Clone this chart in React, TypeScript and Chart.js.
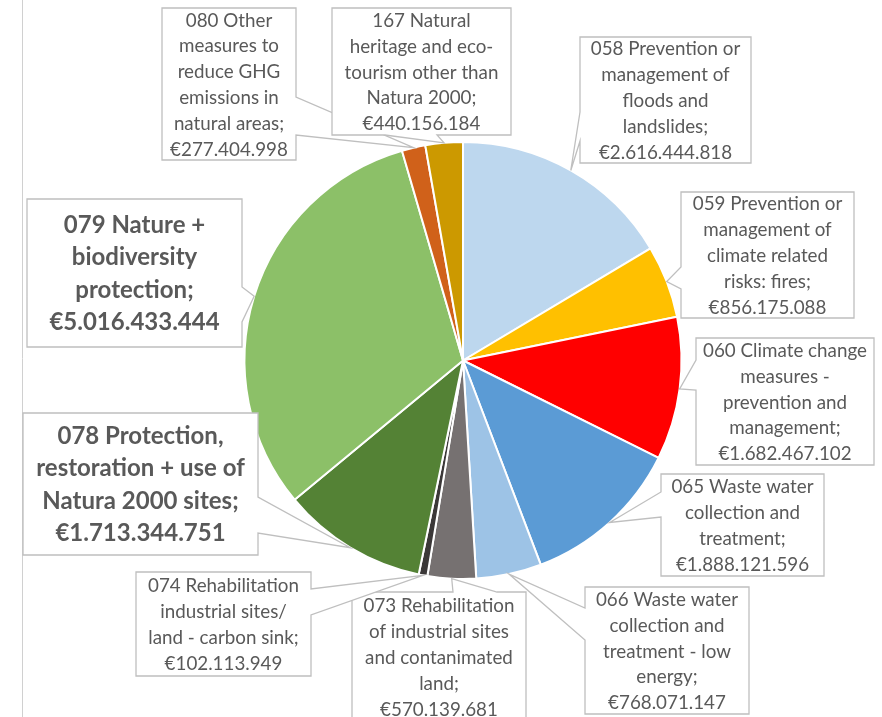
import React, { useEffect, useRef } from "react";
import { Chart, registerables } from "chart.js";

Chart.register(...registerables);

const categoryLines: string[][] = [
  ["058 Prevention or", "management of", "floods and", "landslides;"],
  ["059 Prevention or", "management of", "climate related", "risks: fires;"],
  ["060 Climate change", "measures -", "prevention and", "management;"],
  ["065 Waste water", "collection and", "treatment;"],
  ["066 Waste water", "collection and", "treatment - low", "energy;"],
  ["073 Rehabilitation", "of industrial sites", "and contanimated", "land;"],
  ["074 Rehabilitation", "industrial sites/", "land - carbon sink;"],
  ["078 Protection,", "restoration + use of", "Natura 2000 sites;"],
  ["079 Nature +", "biodiversity", "protection;"],
  ["080 Other", "measures to", "reduce GHG", "emissions in", "natural areas;"],
  ["167 Natural", "heritage and eco-", "tourism other than", "Natura 2000;"],
];
const categories = categoryLines.map((l) => l.join(" "));
const values = [
  2616444818, 856175088, 1682467102, 1888121596, 768071147, 570139681,
  102113949, 1713344751, 5016433444, 277404998, 440156184,
];
const colors = [
  "#BDD7EE", "#FFC000", "#FF0000", "#5B9BD5", "#9DC3E6", "#767171",
  "#3B3838", "#548235", "#8CC068", "#D0611A", "#CC9900",
];

// callout layout: box x, y, w, h, wedge side, wedge base from, to, bold
type Box = { x: number; y: number; w: number; h: number; side: string; p1: number; p2: number; bold?: boolean };
const boxes: Box[] = [
  { x: 580, y: 37, w: 171, h: 126, side: "left", p1: 112, p2: 141 },
  { x: 681, y: 192, w: 173, h: 126, side: "left", p1: 267, p2: 289 },
  { x: 696, y: 338, w: 178, h: 127, side: "left", p1: 360, p2: 390 },
  { x: 661, y: 474, w: 163, h: 102, side: "left", p1: 492, p2: 517 },
  { x: 585, y: 587, w: 164, h: 127, side: "left", p1: 608, p2: 640 },
  { x: 352, y: 592, w: 174, h: 130, side: "top", p1: 453, p2: 497 },
  { x: 136, y: 572, w: 175, h: 104, side: "right", p1: 589, p2: 615 },
  { x: 23, y: 413, w: 235, h: 142, side: "right", p1: 497, p2: 533, bold: true },
  { x: 27, y: 199, w: 215, h: 148, side: "right", p1: 287, p2: 322, bold: true },
  { x: 162, y: 8, w: 134, h: 152, side: "right", p1: 97, p2: 135 },
  { x: 332, y: 8, w: 179, h: 127, side: "bottom", p1: 385, p2: 437 },
];

function euro(v: number): string {
  return "€" + String(v).replace(/\B(?=(\d{3})+(?!\d))/g, ".");
}

function calloutPath(ctx: CanvasRenderingContext2D, b: Box, ax: number, ay: number) {
  const { x, y, w, h, side, p1, p2 } = b;
  ctx.beginPath();
  ctx.moveTo(x, y);
  if (side === "top") { ctx.lineTo(p1, y); ctx.lineTo(ax, ay); ctx.lineTo(p2, y); }
  ctx.lineTo(x + w, y);
  if (side === "right") { ctx.lineTo(x + w, p1); ctx.lineTo(ax, ay); ctx.lineTo(x + w, p2); }
  ctx.lineTo(x + w, y + h);
  if (side === "bottom") { ctx.lineTo(p2, y + h); ctx.lineTo(ax, ay); ctx.lineTo(p1, y + h); }
  ctx.lineTo(x, y + h);
  if (side === "left") { ctx.lineTo(x, p2); ctx.lineTo(ax, ay); ctx.lineTo(x, p1); }
  ctx.closePath();
}

const calloutPlugin = {
  id: "callouts",
  beforeDraw(chart: any) {
    const ctx = chart.ctx as CanvasRenderingContext2D;
    ctx.save();
    ctx.strokeStyle = "#D0D0D0";
    ctx.lineWidth = 1;
    ctx.beginPath();
    ctx.moveTo(22.5, 0);
    ctx.lineTo(22.5, chart.height);
    ctx.stroke();
    ctx.restore();
  },
  afterDatasetsDraw(chart: any) {
    const ctx = chart.ctx as CanvasRenderingContext2D;
    const meta = chart.getDatasetMeta(0);
    ctx.save();
    meta.data.forEach((arc: any, i: number) => {
      const b = boxes[i];
      const mid = (arc.startAngle + arc.endAngle) / 2;
      const ax = arc.x + Math.cos(mid) * arc.outerRadius;
      const ay = arc.y + Math.sin(mid) * arc.outerRadius;
      calloutPath(ctx, b, ax, ay);
      ctx.fillStyle = "#FFFFFF";
      ctx.fill();
      ctx.strokeStyle = "#BFBFBF";
      ctx.lineWidth = 1.3;
      ctx.stroke();
      const lines = [...categoryLines[i], euro(values[i])];
      const lh = b.bold ? 32.5 : 25.8;
      ctx.font = b.bold ? "bold 24px Lato" : "18.8px Lato";
      ctx.fillStyle = "#595959";
      ctx.textAlign = "center";
      ctx.textBaseline = "middle";
      const total = lh * lines.length;
      const startY = b.y + b.h / 2 - total / 2 + lh / 2;
      lines.forEach((t, k) => {
        ctx.fillText(t, b.x + b.w / 2, startY + k * lh + 1);
      });
    });
    ctx.restore();
  },
};

export default function App() {
  const ref = useRef<HTMLCanvasElement>(null);
  useEffect(() => {
    if (!ref.current) return;
    const chart = new Chart(ref.current, {
      type: "pie",
      data: {
        labels: categories,
        datasets: [
          {
            data: values,
            backgroundColor: colors,
            borderColor: "#FFFFFF",
            borderWidth: 2,
          },
        ],
      },
      options: {
        responsive: false,
        animation: false,
        layout: { padding: { left: 243, right: 199, top: 141, bottom: 137 } },
        plugins: {
          legend: { display: false },
          tooltip: { enabled: false },
        },
      },
      plugins: [calloutPlugin],
    });
    return () => chart.destroy();
  }, []);
  return (
    <div style={{ position: "fixed", left: 0, top: 0, width: 882, height: 717, background: "#fff" }}>
      <canvas ref={ref} width={882} height={717} />
    </div>
  );
}
